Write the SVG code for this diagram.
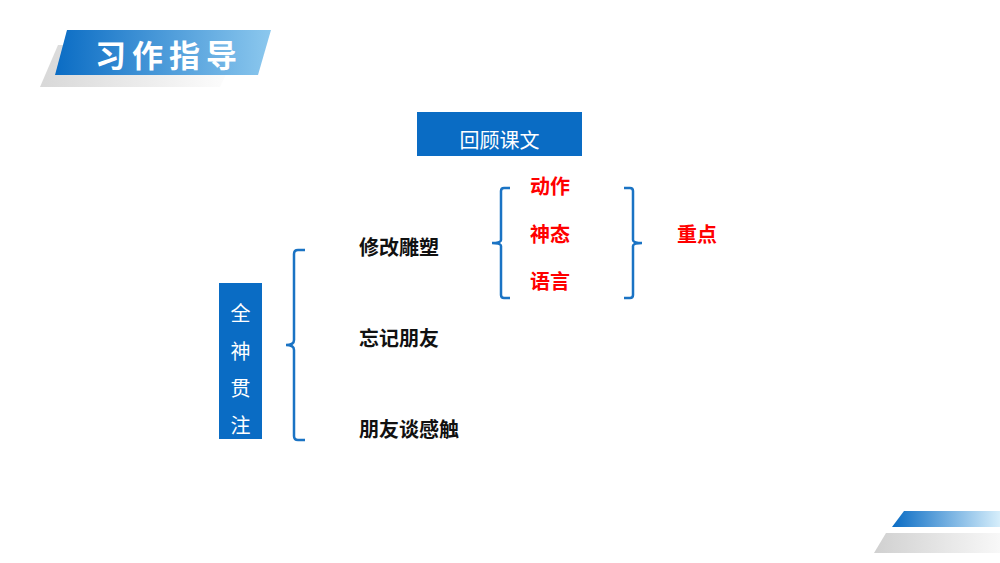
<svg xmlns="http://www.w3.org/2000/svg" width="1000" height="563" viewBox="0 0 1000 563">
<defs>
<linearGradient id="bl" x1="0" x2="1"><stop offset="0" stop-color="#0a6cc4"/><stop offset="1" stop-color="#8cc8ee"/></linearGradient>
<linearGradient id="gr" x1="0" x2="1"><stop offset="0" stop-color="#d8d8d8"/><stop offset="1" stop-color="#ffffff"/></linearGradient>
<linearGradient id="bl2" x1="0" x2="1"><stop offset="0" stop-color="#0a6cc4"/><stop offset="1" stop-color="#d6eefb"/></linearGradient>
<linearGradient id="gr2" x1="0" x2="1"><stop offset="0" stop-color="#d0d0d0"/><stop offset="1" stop-color="#f8f8f8"/></linearGradient>
<style>
.k{font-family:"Noto Sans CJK SC",sans-serif;font-size:20px;font-weight:bold;fill:#111}
.r{font-family:"Noto Sans CJK SC",sans-serif;font-size:20px;font-weight:bold;fill:#ff0000}
.w{font-family:"Noto Sans CJK SC",sans-serif;font-size:20px;fill:#fff}
.br{fill:none;stroke:#1a73c4;stroke-width:2.5}
</style>
</defs>
<rect width="1000" height="563" fill="#fff"/>
<polygon points="58,45 240,45 220,87 40,87" fill="url(#gr)"/>
<polygon points="67,30 271,30 258,75 55,75" fill="url(#bl)"/>
<text x="95" y="67" font-family="Noto Sans CJK SC,sans-serif" font-size="31" font-weight="bold" fill="#fff" letter-spacing="6">习作指导</text>
<polygon points="904,511 1000,511 1000,527 892,527" fill="url(#bl2)"/>
<polygon points="886,533 1000,533 1000,553 874,553" fill="url(#gr2)"/>
<g id="n-huigu"><rect x="417" y="112" width="165" height="44" fill="#0a6cc4"/><text class="w" x="499.5" y="148" text-anchor="middle" font-weight="normal">回顾课文</text></g>
<g id="n-quanshen"><rect x="219" y="283" width="43" height="156" fill="#0a6cc4"/>
<text class="w" x="240.5" y="321" text-anchor="middle">全</text><text class="w" x="240.5" y="359" text-anchor="middle">神</text><text class="w" x="240.5" y="396" text-anchor="middle">贯</text><text class="w" x="240.5" y="433" text-anchor="middle">注</text></g>
<g id="connectors">
<path class="br" d="M305,250 H298 Q294,250 294,254 V340 Q294,345 286,345 Q294,345 294,350 V436 Q294,440 298,440 H305"/>
<path class="br" d="M510,188 H504 Q501,188 501,191 V240 Q501,243 492,243 Q501,243 501,246 V295 Q501,298 504,298 H510"/>
<path class="br" d="M624,188 H630 Q633,188 633,191 V240 Q633,243 642,243 Q633,243 633,246 V295 Q633,298 630,298 H624"/>
</g>
<g id="n-xiugai"><text class="k" x="359" y="255">修改雕塑</text></g>
<g id="n-wangji"><text class="k" x="359" y="346">忘记朋友</text></g>
<g id="n-pengyou"><text class="k" x="359" y="437">朋友谈感触</text></g>
<g id="n-dongzuo"><text class="r" x="530" y="194">动作</text></g>
<g id="n-shentai"><text class="r" x="530" y="242">神态</text></g>
<g id="n-yuyan"><text class="r" x="530" y="289">语言</text></g>
<g id="n-zhongdian"><text class="r" x="677" y="242">重点</text></g>
</svg>
